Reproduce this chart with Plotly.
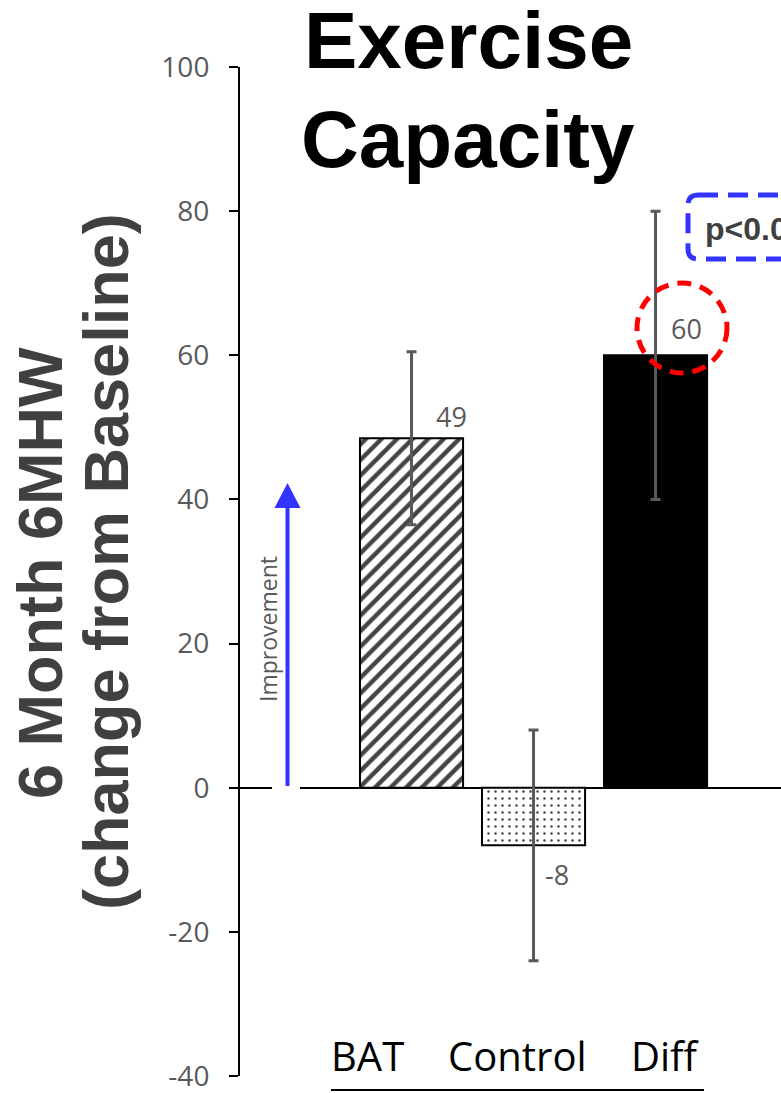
import plotly.graph_objects as go

# ---------------- data ----------------
categories = ["BAT", "Control", "Diff"]
values = [48.5, -8, 60]
errors = [12, 16, 20]
value_labels = ["49", "-8", "60"]
y_tick_vals = [-40, -20, 0, 20, 40, 60, 80, 100]
y_tick_text = ["-40", "-20", "0", "20", "40", "60", "80", "100"]
title_lines = ["Exercise", "Capacity"]
y_title_lines = ["6 Month 6MHW", "(change from Baseline)"]
p_text = "p<0.05"
arrow_text = "Improvement"

# ---------------- geometry helpers ----------------
W, H = 781, 1093
L, R, T, B = 240, 0, 67, 17
PW = W - L - R
PH = H - T - B


def px(x):
    return (x - L) / PW


def py(y):
    return (H - B - y) / PH


GRAY = "#595959"
DARK = "#404040"
BLUE = "#3333FF"

fig = go.Figure()
fig.add_trace(go.Bar(
    x=categories,
    y=values,
    width=0.845,
    marker=dict(
        color=["white", "white", "black"],
        line=dict(color="black", width=2),
        pattern=dict(
            shape=["/", ".", ""],
            fgcolor="black",
            bgcolor=["white", "white", "black"],
            fgopacity=1,
            fillmode="overlay",
            size=[11, 7, 8],
            solidity=[0.4, 0.1, 0.3],
        ),
    ),
    error_y=dict(type="data", array=errors, color=GRAY, thickness=3, width=5),
    hoverinfo="skip",
))

annotations = []
# data labels
shifts = [(39.5, 22), (23, -29), (30.5, 27)]
for i, (c, v, lab) in enumerate(zip(categories, values, value_labels)):
    annotations.append(dict(
        x=i, y=v, xref="x", yref="y", text=lab, showarrow=False,
        xshift=shifts[i][0], yshift=shifts[i][1],
        font=dict(family="Open Sans", size=27, color=GRAY),
    ))

# title
for txt, yc in zip(title_lines, [41, 139]):
    annotations.append(dict(
        x=px(468), y=py(yc), xref="paper", yref="paper", text="<b>" + txt + "</b>",
        showarrow=False, xanchor="center", yanchor="middle",
        font=dict(family="Liberation Sans", size=80, color="black"),
    ))

# y-axis title (two lines)
for txt, xc, yc in zip(y_title_lines, [40, 106], [573, 562]):
    annotations.append(dict(
        x=px(xc), y=py(yc), xref="paper", yref="paper", text="<b>" + txt + "</b>",
        showarrow=False, xanchor="center", yanchor="middle", textangle=-90,
        font=dict(family="Liberation Sans", size=63, color=DARK),
    ))

# improvement label
annotations.append(dict(
    x=px(268), y=py(629), xref="paper", yref="paper", text=arrow_text,
    showarrow=False, xanchor="center", yanchor="middle", textangle=-90,
    font=dict(family="Open Sans", size=23, color=GRAY),
))

# category labels
for txt, xc in zip(categories, [367, 517, 665]):
    annotations.append(dict(
        x=px(xc), y=py(1055), xref="paper", yref="paper", text=txt,
        showarrow=False, xanchor="center", yanchor="middle",
        font=dict(family="Open Sans", size=40, color="black"),
    ))

# p-value text
annotations.append(dict(
    x=px(703), y=py(229), xref="paper", yref="paper", text="<b>" + p_text + "</b>",
    showarrow=False, xanchor="left", yanchor="middle",
    font=dict(family="Liberation Sans", size=32, color=DARK),
))

shapes = []
# gap in zero line around arrow base
shapes.append(dict(type="rect", xref="paper", yref="paper",
                   x0=px(272), x1=px(300), y0=py(791), y1=py(785),
                   fillcolor="white", line=dict(width=0), layer="above"))
# arrow shaft
shapes.append(dict(type="line", xref="paper", yref="paper",
                   x0=px(287.5), x1=px(287.5), y0=py(786), y1=py(505),
                   line=dict(color=BLUE, width=4)))
# arrow head
shapes.append(dict(type="path", xref="paper", yref="paper",
                   path=f"M {px(274.5)},{py(508)} L {px(300.5)},{py(508)} L {px(287.5)},{py(483)} Z",
                   fillcolor=BLUE, line=dict(width=0)))
# red dashed circle
shapes.append(dict(type="circle", xref="paper", yref="paper",
                   x0=px(637), x1=px(727), y0=py(373), y1=py(283),
                   line=dict(color="#FF0000", width=5, dash="14px,9px")))
# blue dashed rounded box
bx0, by0, bx1, by1, r = 688, 195, 830, 259, 10
path = (f"M {px(bx0 + r)},{py(by0)} L {px(bx1)},{py(by0)} L {px(bx1)},{py(by1)} "
        f"L {px(bx0 + r)},{py(by1)} Q {px(bx0)},{py(by1)} {px(bx0)},{py(by1 - r)} "
        f"L {px(bx0)},{py(by0 + r)} Q {px(bx0)},{py(by0)} {px(bx0 + r)},{py(by0)} Z")
shapes.append(dict(type="path", xref="paper", yref="paper", path=path,
                   line=dict(color=BLUE, width=5, dash="20px,10px")))
# underline below category labels
shapes.append(dict(type="line", xref="paper", yref="paper",
                   x0=px(331), x1=px(704), y0=py(1090), y1=py(1090),
                   line=dict(color="black", width=2)))

fig.update_layout(
    width=W, height=H,
    margin=dict(l=L, r=R, t=T, b=B, pad=0),
    paper_bgcolor="white", plot_bgcolor="white",
    showlegend=False,
    annotations=annotations,
    shapes=shapes,
    xaxis=dict(type="category", range=[-1.406, -1.406 + PW / 122.0],
               showticklabels=False, showline=False, ticks="", showgrid=False,
               zeroline=False, fixedrange=True),
    yaxis=dict(range=[-40, 100], tickvals=y_tick_vals, ticktext=y_tick_text,
               showgrid=False,
               showline=True, linecolor="black", linewidth=2,
               ticks="outside", ticklen=9, tickwidth=2, tickcolor="black",
               ticklabelstandoff=14, ticklabeloverflow="allow",
               tickfont=dict(family="Open Sans", size=28, color=GRAY),
               zeroline=True, zerolinecolor="black", zerolinewidth=2),
)

fig.write_html(
    "out.html",
    config={"displayModeBar": False},
    post_script="document.body.style.margin='0';document.body.style.overflow='hidden';",
)
